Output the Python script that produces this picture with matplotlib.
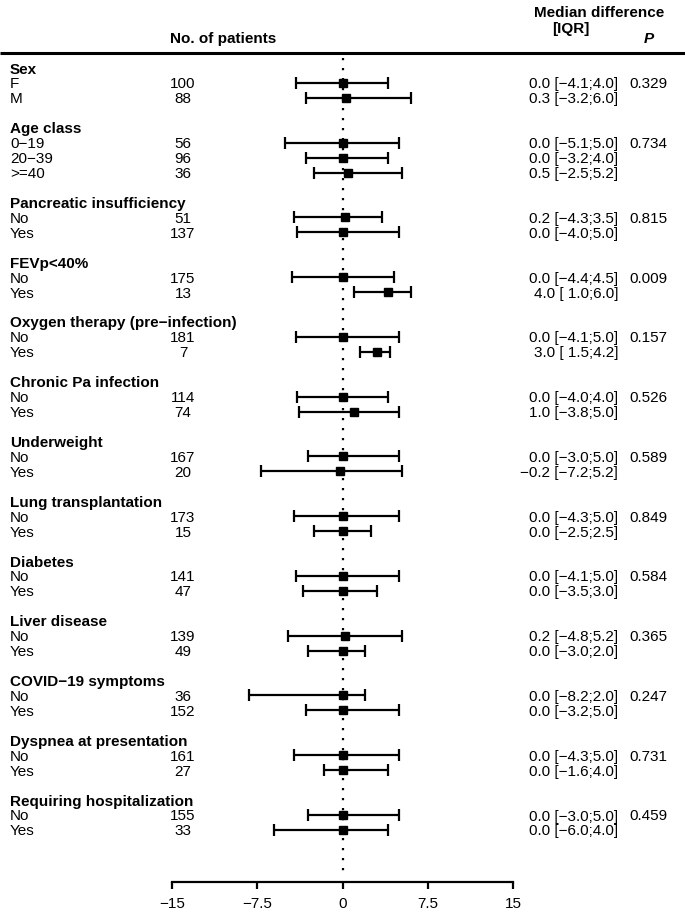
import matplotlib.pyplot as plt
import matplotlib.transforms as mtransforms

plt.rcParams["font.family"] = ["Liberation Sans", "DejaVu Sans"]
plt.rcParams["font.size"] = 11

# ---- data ----
groups = [
    "Sex", "Age class", "Pancreatic insufficiency", "FEVp<40%",
    "Oxygen therapy (pre\u2212infection)", "Chronic Pa infection", "Underweight",
    "Lung transplantation", "Diabetes", "Liver disease", "COVID\u221219 symptoms",
    "Dyspnea at presentation", "Requiring hospitalization",
]
levels = [
    ["F", "M"],
    ["0\u221219", "20\u221239", ">=40"],
    ["No", "Yes"], ["No", "Yes"], ["No", "Yes"], ["No", "Yes"], ["No", "Yes"],
    ["No", "Yes"], ["No", "Yes"], ["No", "Yes"], ["No", "Yes"], ["No", "Yes"],
    ["No", "Yes"],
]
n_patients = [
    [100, 88], [56, 96, 36], [51, 137], [175, 13], [181, 7], [114, 74],
    [167, 20], [173, 15], [141, 47], [139, 49], [36, 152], [161, 27], [155, 33],
]
median = [
    [0.0, 0.3], [0.0, 0.0, 0.5], [0.2, 0.0], [0.0, 4.0], [0.0, 3.0], [0.0, 1.0],
    [0.0, -0.2], [0.0, 0.0], [0.0, 0.0], [0.2, 0.0], [0.0, 0.0], [0.0, 0.0], [0.0, 0.0],
]
q1 = [
    [-4.1, -3.2], [-5.1, -3.2, -2.5], [-4.3, -4.0], [-4.4, 1.0], [-4.1, 1.5],
    [-4.0, -3.8], [-3.0, -7.2], [-4.3, -2.5], [-4.1, -3.5], [-4.8, -3.0],
    [-8.2, -3.2], [-4.3, -1.6], [-3.0, -6.0],
]
q3 = [
    [4.0, 6.0], [5.0, 4.0, 5.2], [3.5, 5.0], [4.5, 6.0], [5.0, 4.2], [4.0, 5.0],
    [5.0, 5.2], [5.0, 2.5], [5.0, 3.0], [5.2, 2.0], [2.0, 5.0], [5.0, 4.0], [5.0, 4.0],
]
p_values = ["0.329", "0.734", "0.815", "0.009", "0.157", "0.526", "0.589",
            "0.849", "0.584", "0.365", "0.247", "0.731", "0.459"]
x_ticks = [-15, -7.5, 0, 7.5, 15]
x_tick_labels = ["\u221215", "\u22127.5", "0", "7.5", "15"]

# ---- layout (pixels from the top-left of a 685x917 canvas) ----
W, H = 685, 917
row0, row_step = 68.0, 14.94
base_off = 5.5

fig = plt.figure(figsize=(W / 100, H / 100), dpi=100)
fig.patch.set_facecolor("white")
ax = fig.add_axes([172 / W, 0, 341 / W, 1])
ax.set_xlim(-15, 15)
ax.set_ylim(H, 0)
ax.patch.set_alpha(0)
for s in ["top", "left", "right"]:
    ax.spines[s].set_visible(False)
ax.spines["bottom"].set_position(("data", 882))
ax.spines["bottom"].set_bounds(-15, 15)
ax.spines["bottom"].set_linewidth(1.6)
ax.set_yticks([])
ax.set_xticks(x_ticks)
ax.set_xticklabels(x_tick_labels)
ax.tick_params(axis="x", direction="out", length=5, width=1.6, pad=6, labelsize=11)

tr = mtransforms.blended_transform_factory(fig.transFigure, ax.transData)


def fx(px):
    return px / W


# header
ax.text(fx(599), 17, "Median difference", transform=tr, ha="center", va="baseline",
        fontweight="bold")
ax.text(fx(571), 33.5, "[IQR]", transform=tr, ha="center", va="baseline",
        fontweight="bold")
ax.text(fx(649), 43, "P", transform=tr, ha="center", va="baseline",
        fontweight="bold", style="italic")
ax.text(fx(223), 43.5, "No. of patients", transform=tr, ha="center", va="baseline",
        fontweight="bold")
ax.plot([0, 1], [53, 53], transform=tr, color="black", lw=2.2, clip_on=False,
        solid_capstyle="butt")

# rows
row = 0
for g, grp in enumerate(groups):
    yh = row0 + row * row_step
    ax.text(fx(10), yh + base_off, grp, transform=tr, va="baseline", fontweight="bold")
    row += 1
    for k, lev in enumerate(levels[g]):
        y = row0 + row * row_step
        m, lo, hi = median[g][k], q1[g][k], q3[g][k]
        ax.text(fx(10), y + base_off, lev, transform=tr, va="baseline")
        ax.text(fx(183), y + base_off, str(n_patients[g][k]), transform=tr,
                ha="center", va="baseline")
        label = f"{m:.1f} [{lo:4.1f};{hi:.1f}]".replace("-", "\u2212")
        ax.text(fx(618), y + base_off, label, transform=tr, ha="right", va="baseline")
        if k == 0:
            ax.text(fx(648), y + base_off, p_values[g], transform=tr, ha="center",
                    va="baseline")
        ax.errorbar(m, y, xerr=[[m - lo], [hi - m]], fmt="s", color="black",
                    ms=5.5, elinewidth=1.6, capsize=4.3, capthick=1.6, zorder=3)
        row += 1
    row += 1

# reference line at zero
ax.plot([0, 0], [58, 873], color="black", lw=1.6, linestyle=(0, (1, 3.5)),
        dash_capstyle="butt", zorder=1)

fig.savefig("out.png", dpi=100, facecolor="white")
